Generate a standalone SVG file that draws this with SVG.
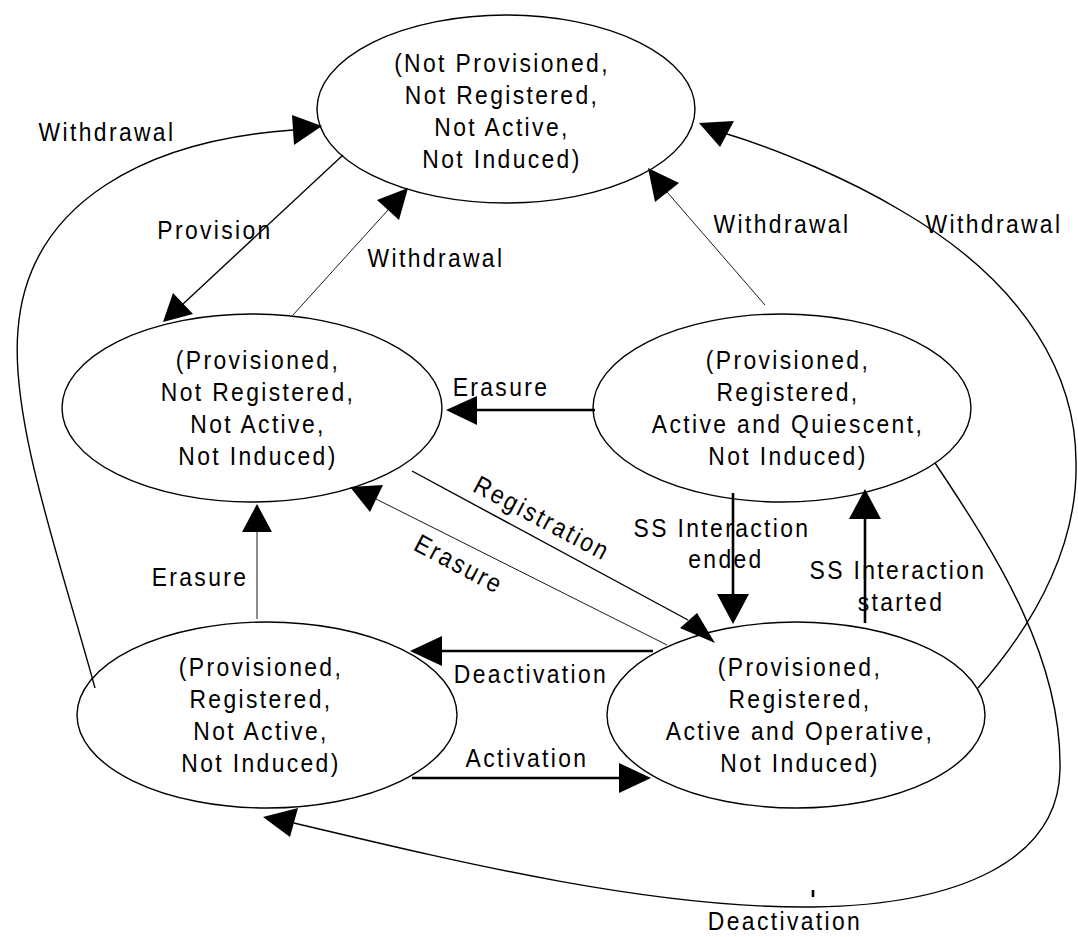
<svg xmlns="http://www.w3.org/2000/svg" width="1078" height="937" viewBox="0 0 1078 937">
<style>
.node ellipse{fill:#fff;stroke:#000;stroke-width:1.4}
text{font-family:"Liberation Sans",Arial,sans-serif;font-size:26px;letter-spacing:2.7px;fill:#000;text-anchor:middle}
.thin{fill:none;stroke:#000;stroke-width:0.9}
.med{fill:none;stroke:#000;stroke-width:1.4}
.thick{fill:none;stroke:#000;stroke-width:2.6}
.ah{fill:#000;stroke:none}
</style>
<rect width="1078" height="937" fill="#fff"/>

<g id="n-not-provisioned" class="node">
<ellipse cx="506" cy="109" rx="189" ry="94"/>
<text transform="translate(502,0) scale(0.88,1)"><tspan x="0" y="72">(Not Provisioned,</tspan><tspan x="0" y="104">Not Registered,</tspan><tspan x="0" y="136">Not Active,</tspan><tspan x="0" y="168">Not Induced)</tspan></text>
</g>
<g id="n-provisioned" class="node">
<ellipse cx="252" cy="408" rx="190" ry="94"/>
<text transform="translate(258,0) scale(0.88,1)"><tspan x="0" y="369">(Provisioned,</tspan><tspan x="0" y="401">Not Registered,</tspan><tspan x="0" y="433">Not Active,</tspan><tspan x="0" y="465">Not Induced)</tspan></text>
</g>
<g id="n-quiescent" class="node">
<ellipse cx="782" cy="408" rx="189" ry="94"/>
<text transform="translate(788,0) scale(0.88,1)"><tspan x="0" y="369">(Provisioned,</tspan><tspan x="0" y="401">Registered,</tspan><tspan x="0" y="433">Active and Quiescent,</tspan><tspan x="0" y="465">Not Induced)</tspan></text>
</g>
<g id="n-registered" class="node">
<ellipse cx="267" cy="715" rx="190" ry="93"/>
<text transform="translate(261,0) scale(0.88,1)"><tspan x="0" y="676">(Provisioned,</tspan><tspan x="0" y="708">Registered,</tspan><tspan x="0" y="740">Not Active,</tspan><tspan x="0" y="772">Not Induced)</tspan></text>
</g>
<g id="n-operative" class="node">
<ellipse cx="796" cy="715" rx="189" ry="93"/>
<text transform="translate(800,0) scale(0.88,1)"><tspan x="0" y="676">(Provisioned,</tspan><tspan x="0" y="708">Registered,</tspan><tspan x="0" y="740">Active and Operative,</tspan><tspan x="0" y="772">Not Induced)</tspan></text>
</g>

<g id="connectors">
<g id="c-withdrawal-left">
<path class="med" d="M95,688 C60,560 10,420 18,330 C28,200 150,140 293,130"/>
<polygon class="ah" points="322,126 292,115 294,145"/>
<text transform="translate(107,141) scale(0.88,1)">Withdrawal</text>
</g>
<g id="c-provision">
<path class="med" d="M343,155 L183,304"/>
<polygon class="ah" points="163,322 173,293 193,314"/>
<text transform="translate(215,239) scale(0.88,1)">Provision</text>
</g>
<g id="c-withdrawal-2">
<path class="thin" d="M293,315 L388,210"/>
<polygon class="ah" points="408,188 377,200 399,220"/>
<text transform="translate(436,267) scale(0.88,1)">Withdrawal</text>
</g>
<g id="c-withdrawal-3">
<path class="thin" d="M765,305 L667,192"/>
<polygon class="ah" points="648,168 655,202 679,183"/>
<text transform="translate(782,233) scale(0.88,1)">Withdrawal</text>
</g>
<g id="c-withdrawal-right">
<path class="med" d="M978,688 C1040,618 1078,540 1076,462 C1076,380 1030,285 900,210 C850,180 780,150 727,134"/>
<polygon class="ah" points="699,123 734,121 720,147"/>
<text transform="translate(994,233) scale(0.88,1)">Withdrawal</text>
</g>
<g id="c-erasure-h">
<path class="thick" d="M595,410 L477,410"/>
<polygon class="ah" points="446,410 477,396 477,425"/>
<text transform="translate(501,396) scale(0.88,1)">Erasure</text>
</g>
<g id="c-registration">
<path class="med" d="M412,471 L688,620"/>
<polygon class="ah" points="715,643 680,628 697,613"/>
<text transform="translate(538,526) rotate(28) scale(0.88,1)">Registration</text>
</g>
<g id="c-erasure-diag">
<path class="thin" d="M667,645 L376,499"/>
<polygon class="ah" points="350,487 383,485 370,512"/>
<text transform="translate(455,572) rotate(28) scale(0.88,1)">Erasure</text>
</g>
<g id="c-erasure-v">
<path class="thin" d="M257,619 L257,532"/>
<polygon class="ah" points="257,504 242,532 272,532"/>
<text transform="translate(200,586) scale(0.88,1)">Erasure</text>
</g>
<g id="c-ss-ended">
<path class="thick" d="M733,493 L733,594"/>
<polygon class="ah" points="733,624 717,594 749,594"/>
<text transform="translate(722,0) scale(0.88,1)"><tspan x="0" y="537">SS Interaction</tspan><tspan x="4.5" y="568">ended</tspan></text>
</g>
<g id="c-ss-started">
<path class="thick" d="M865,623 L865,519"/>
<polygon class="ah" points="865,489 849,519 881,519"/>
<text transform="translate(898,0) scale(0.88,1)"><tspan x="0" y="579">SS Interaction</tspan><tspan x="3.4" y="611">started</tspan></text>
</g>
<g id="c-deactivation-h">
<path class="thick" d="M653,651 L442,651"/>
<polygon class="ah" points="410,651 442,636 442,666"/>
<text transform="translate(531,683) scale(0.88,1)">Deactivation</text>
</g>
<g id="c-activation">
<path class="thick" d="M412,778 L619,778"/>
<polygon class="ah" points="651,778 619,763 619,793"/>
<text transform="translate(527,767) scale(0.88,1)">Activation</text>
</g>
<g id="c-deactivation-bottom">
<path class="med" d="M935,463 C1000,560 1062,660 1060,770 C1058,860 960,905 813,907 C650,909 450,860 294,823"/>
<polygon class="ah" points="263,817 298,808 290,837"/>
<path class="thick" d="M813,890 L813,897"/>
<text transform="translate(785,930) scale(0.88,1)">Deactivation</text>
</g>
</g>
</svg>
